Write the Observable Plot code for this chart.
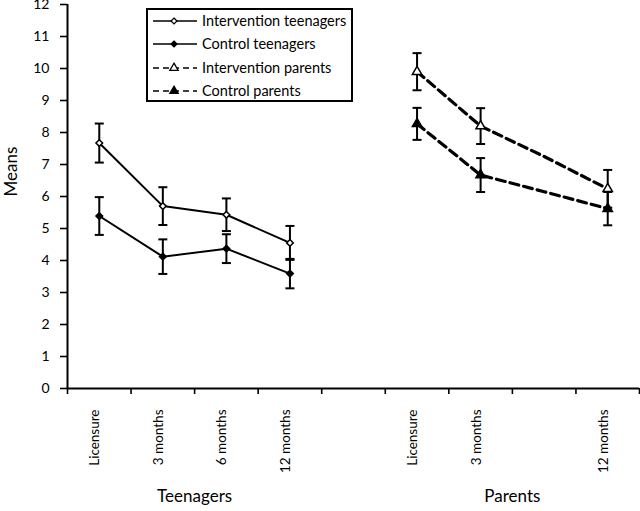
<!DOCTYPE html>
<html><head><meta charset="utf-8">
<script src="https://cdn.jsdelivr.net/npm/d3@7"></script>
<script src="https://cdn.jsdelivr.net/npm/@observablehq/plot@0.6"></script>
<style>
body{margin:0;background:#fff;}
#wrap{position:relative;width:640px;height:511px;font-family:Lato,"Open Sans",sans-serif;}
#legend{position:absolute;left:146px;top:8px;width:207px;height:94px;box-sizing:border-box;border:2px solid #000;background:#fff;}
#legend svg{position:absolute;left:0;top:0;}
</style></head><body><div id="wrap"></div>
<script>
const FONT = 'Lato, "Open Sans", sans-serif';
// x categories (empty strings are unlabeled spacer slots)
const categories = ["Licensure","3 months","6 months","12 months","","Licensure","3 months","","12 months"];
const groupNames = ["Teenagers","Parents"];
const groupFirst = [0, 5];
const groupLast = [3, 8];
const seriesNames = ["Intervention teenagers","Control teenagers","Intervention parents","Control parents"];
// teenagers (category slots 0..3)
const teenSlots = [0,1,2,3];
const teenInterv = [7.67, 5.70, 5.43, 4.55];
const teenIntervErr = [0.61, 0.59, 0.51, 0.53];
const teenControl = [5.39, 4.12, 4.37, 3.59];
const teenControlErr = [0.59, 0.54, 0.45, 0.46];
// parents (slots 5..8; slot 7 is an unlabeled point on the line only)
const parentSlots = [5,6,7,8];
const parentInterv = [9.90, 8.20, 7.25, 6.24];
const parentIntervErr = [0.58, 0.56, null, 0.59];
const parentControl = [8.27, 6.67, 6.15, 5.62];
const parentControlErr = [0.50, 0.53, null, 0.52];

function rows(name, slots, vals, errs) {
  return slots.map((s, k) => ({series: name, x: s + 0.5, mean: vals[k], err: errs[k]}));
}
const sIT = rows(seriesNames[0], teenSlots, teenInterv, teenIntervErr);
const sCT = rows(seriesNames[1], teenSlots, teenControl, teenControlErr);
const sIP = rows(seriesNames[2], parentSlots, parentInterv, parentIntervErr);
const sCP = rows(seriesNames[3], parentSlots, parentControl, parentControlErr);
const all = [...sIT, ...sCT, ...sIP, ...sCP];
const withErr = all.filter(d => d.err != null);
const caps = withErr.flatMap(d => [{x: d.x, y: d.mean - d.err}, {x: d.x, y: d.mean + d.err}]);
const catRows = categories.map((label, i) => ({c: i + 0.5, label}));
const groups = groupNames.map((name, g) => ({name, c: (groupFirst[g] + groupLast[g] + 1) / 2}));

const capSymbol = {draw(ctx, size) { const r = Math.sqrt(size / Math.PI); ctx.moveTo(-r, 0); ctx.lineTo(r, 0); }};

const chart = Plot.plot({
  width: 640, height: 511,
  marginLeft: 67, marginRight: 1, marginTop: 4, marginBottom: 123,
  style: {fontFamily: FONT, fontSize: "13px", color: "#000", background: "#fff", overflow: "visible"},
  x: {domain: [0, categories.length], axis: null},
  y: {domain: [0, 12], axis: null},
  marks: [
    Plot.axisY(d3.range(0, 13), {tickSize: 7, tickPadding: 11, strokeWidth: 1.6, label: null, fontSize: 14}),
    Plot.axisX(d3.range(0, categories.length + 1), {tickSize: 6, tickFormat: () => "", strokeWidth: 1.6, label: null}),
    Plot.ruleX([0], {strokeWidth: 2}),
    Plot.ruleY([0], {strokeWidth: 2}),
    Plot.text(catRows, {x: "c", text: "label", frameAnchor: "bottom", dy: 21, rotate: -90, textAnchor: "end", fontSize: 13.5}),
    Plot.text(groups, {x: "c", text: "name", frameAnchor: "bottom", dy: 113, fontSize: 17}),
    Plot.text(["Means"], {frameAnchor: "left", dx: -56, rotate: -90, fontSize: 17}),
    Plot.ruleX(withErr, {x: "x", y1: d => d.mean - d.err, y2: d => d.mean + d.err, strokeWidth: 2}),
    Plot.dot(caps, {x: "x", y: "y", symbol: capSymbol, r: 4.5, stroke: "#000", strokeWidth: 2, fill: "none"}),
    Plot.line([...sIT, ...sCT], {x: "x", y: "mean", z: "series", stroke: "#000", strokeWidth: 2}),
    Plot.line([...sIP, ...sCP], {x: "x", y: "mean", z: "series", stroke: "#000", strokeWidth: 3.2, strokeDasharray: "9,5"}),
    Plot.dot(sIT, {x: "x", y: "mean", symbol: "diamond2", r: 3, fill: "#fff", stroke: "#000", strokeWidth: 1.5}),
    Plot.dot(sCT, {x: "x", y: "mean", symbol: "diamond2", r: 3, fill: "#000", stroke: "#000", strokeWidth: 1.5}),
    Plot.dot(sIP.filter(d => d.err != null), {x: "x", y: "mean", symbol: "triangle", r: 3.5, fill: "#fff", stroke: "#000", strokeWidth: 1.5}),
    Plot.dot(sCP.filter(d => d.err != null), {x: "x", y: "mean", symbol: "triangle", r: 3.5, fill: "#000", stroke: "#000", strokeWidth: 1.5})
  ]
});
const wrap = document.getElementById("wrap");
wrap.appendChild(chart);

// legend
const legendItems = [
  {name: seriesNames[0], dash: null, sym: d3.symbolDiamond2, fill: "#fff"},
  {name: seriesNames[1], dash: null, sym: d3.symbolDiamond2, fill: "#000"},
  {name: seriesNames[2], dash: "6,4", sym: d3.symbolTriangle, fill: "#fff"},
  {name: seriesNames[3], dash: "6,4", sym: d3.symbolTriangle, fill: "#000"}
];
const leg = d3.select(wrap).append("div").attr("id", "legend");
const svg = leg.append("svg").attr("width", 203).attr("height", 90);
const rowY = [11, 34, 58, 81];
legendItems.forEach((it, i) => {
  const g = svg.append("g").attr("transform", `translate(0,${rowY[i]})`);
  g.append("line").attr("x1", 5).attr("x2", 49).attr("stroke", "#000").attr("stroke-width", 1.5)
    .attr("stroke-dasharray", it.dash);
  g.append("path").attr("transform", "translate(26,0)").attr("d", d3.symbol(it.sym, it.sym === d3.symbolTriangle ? 30 : 22)())
    .attr("fill", it.fill).attr("stroke", "#000").attr("stroke-width", 1.3);
  g.append("text").attr("x", 54).attr("dy", "0.35em").attr("font-family", FONT).attr("font-size", 14.5).text(it.name);
});
</script></body></html>
